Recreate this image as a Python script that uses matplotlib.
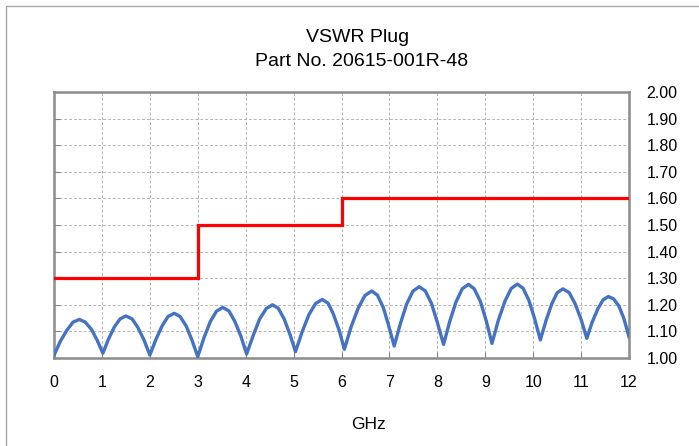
"""VSWR plot for plug 20615-001R-48: measured VSWR vs limit line."""
import matplotlib
matplotlib.use("Agg")
import matplotlib.pyplot as plt
from matplotlib.patches import Rectangle

plt.rcParams["font.family"] = ["Liberation Sans", "DejaVu Sans"]

TITLE_1 = "VSWR Plug"
TITLE_2 = "Part No. 20615-001R-48"
XLABEL = "GHz"

# limit line (step)
limit_ghz = [0, 3, 6, 12]
limit_vswr = [1.30, 1.50, 1.60, 1.60]

freq_ghz = [
    0.00, 0.13, 0.27, 0.40, 0.53, 0.65, 0.78, 0.90, 1.02, 1.14, 1.26, 1.38,
    1.50, 1.63, 1.75, 1.88, 2.00, 2.13, 2.26, 2.38, 2.51, 2.63, 2.76, 2.88,
    3.00, 3.13, 3.26, 3.39, 3.52, 3.65, 3.77, 3.90, 4.02, 4.16, 4.29, 4.43,
    4.56, 4.68, 4.80, 4.92, 5.04, 5.18, 5.32, 5.46, 5.60, 5.72, 5.83, 5.95,
    6.06, 6.20, 6.35, 6.49, 6.63, 6.75, 6.87, 6.98, 7.10, 7.23, 7.36, 7.49,
    7.62, 7.75, 7.88, 8.00, 8.13, 8.26, 8.39, 8.52, 8.65, 8.77, 8.90, 9.02,
    9.14, 9.27, 9.41, 9.54, 9.67, 9.79, 9.91, 10.03, 10.15, 10.27, 10.39, 10.50,
    10.62, 10.75, 10.87, 11.00, 11.12, 11.23, 11.35, 11.46, 11.57, 11.68, 11.79,
    11.89, 12.00,
]
vswr = [
    1.010, 1.062, 1.105, 1.135, 1.145, 1.135, 1.108, 1.067, 1.018, 1.072, 1.117, 1.147,
    1.158, 1.147, 1.115, 1.067, 1.011, 1.071, 1.122, 1.156, 1.168, 1.156, 1.120, 1.067,
    1.005, 1.076, 1.136, 1.176, 1.190, 1.177, 1.139, 1.082, 1.015, 1.086, 1.146, 1.186,
    1.200, 1.187, 1.148, 1.091, 1.024, 1.099, 1.163, 1.205, 1.220, 1.206, 1.165, 1.105,
    1.033, 1.117, 1.188, 1.235, 1.252, 1.236, 1.191, 1.124, 1.045, 1.130, 1.203, 1.251,
    1.268, 1.252, 1.204, 1.134, 1.051, 1.138, 1.211, 1.260, 1.277, 1.260, 1.212, 1.140,
    1.055, 1.140, 1.213, 1.261, 1.278, 1.262, 1.217, 1.148, 1.068, 1.142, 1.204, 1.245,
    1.260, 1.246, 1.206, 1.145, 1.074, 1.134, 1.185, 1.219, 1.231, 1.222, 1.195,
    1.150, 1.080,
]

xticks = list(range(0, 13))
yticks = [1.00, 1.10, 1.20, 1.30, 1.40, 1.50, 1.60, 1.70, 1.80, 1.90, 2.00]


def main():
    fig = plt.figure(figsize=(6.99, 4.46), dpi=100)
    ax = fig.add_axes([54 / 699, 1 - 358 / 446, 575 / 699, 266 / 446])

    ax.plot(limit_ghz, limit_vswr, drawstyle="steps-post", color="#FF0000", lw=2.3,
            solid_joinstyle="miter", zorder=3)
    ax.plot(freq_ghz, vswr, color="#4472C4", lw=2.4, zorder=4)

    ax.set_xlim(0, 12)
    ax.set_ylim(1.0, 2.0)
    ax.set_xticks(xticks)
    ax.set_yticks(yticks)
    ax.set_xticklabels([str(t) for t in xticks])
    ax.set_yticklabels([f"{t:.2f}" for t in yticks])
    ax.grid(True, color="#B4B4B4", ls=(0, (3, 2)), lw=0.7)
    ax.tick_params(axis="x", direction="in", length=4, color="#808080",
                   labelsize=11.5, pad=12)
    ax.tick_params(axis="y", left=True, right=False, labelleft=False,
                   labelright=True, direction="in", length=4, color="#808080",
                   labelsize=11.5, pad=12.5)
    for sp in ax.spines.values():
        sp.set_color("#8C8C8C")
        sp.set_linewidth(1.8)

    fig.text(358 / 699, 1 - 41.5 / 446, TITLE_1, ha="center", va="baseline",
             fontsize=14)
    fig.text(362 / 699, 1 - 66.5 / 446, TITLE_2, ha="center", va="baseline",
             fontsize=14)
    fig.text(368 / 699, 1 - 429 / 446, XLABEL, ha="center", va="baseline",
             fontsize=12.5)

    fig.patches.append(Rectangle((6 / 699, -0.1), 1.2, 1.1 - 6 / 446,
                                 transform=fig.transFigure, fill=False,
                                 ec="#A6A6A6", lw=1.0))

    fig.savefig("out.png", dpi=100)


if __name__ == "__main__":
    main()
